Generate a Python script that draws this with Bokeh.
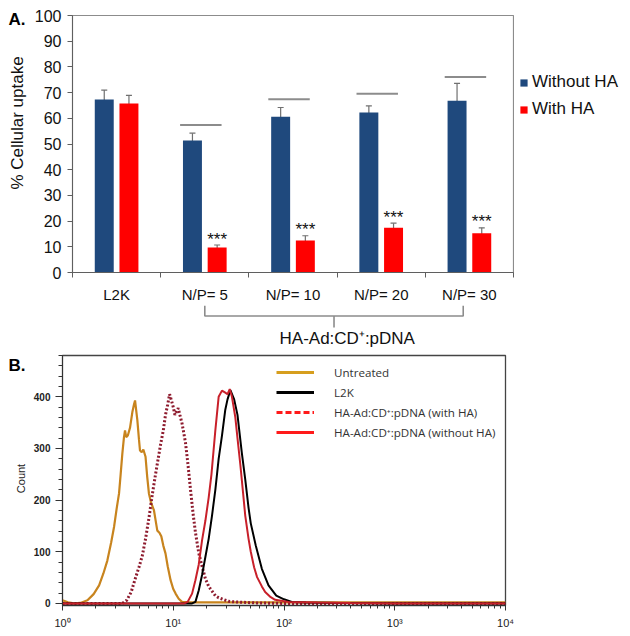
import math
from bokeh.plotting import figure
from bokeh.models import (ColumnDataSource, Range1d, FixedTicker, Whisker, TeeHead, Legend,
                          LegendItem, CustomJSTickFormatter)
from bokeh.transform import dodge
from bokeh.layouts import column, row
from bokeh.core.properties import value
from bokeh.embed import file_html
from bokeh.resources import INLINE

# ---------------- Panel A data ----------------
groups = ["L2K", "N/P= 5", "N/P= 10", "N/P= 20", "N/P= 30"]
a_series = ["Without HA", "With HA"]
uptake_without_ha = [67.3, 51.4, 60.6, 62.3, 66.8]
err_without_ha = [3.7, 2.8, 3.6, 2.5, 6.8]
uptake_with_ha = [65.8, 9.7, 12.5, 17.4, 15.3]
err_with_ha = [3.1, 1.0, 1.8, 1.8, 2.1]
sig_groups = ["N/P= 5", "N/P= 10", "N/P= 20", "N/P= 30"]
sig_line_level = [57.4, 67.4, 69.6, 76.1]
sig_text = ["***", "***", "***", "***"]
y_ticks_a = [0, 10, 20, 30, 40, 50, 60, 70, 80, 90, 100]
y_title_a = "% Cellular uptake"
bracket_groups = ["N/P= 5", "N/P= 30"]
bracket_text = "HA-Ad:CD\u207a:pDNA"
panel_tags = ["A.", "B."]

# ---------------- Panel B data ----------------
b_series = ["Untreated", "L2K", "HA-Ad:CD\u207a:pDNA (with HA)", "HA-Ad:CD\u207a:pDNA (without HA)"]
y_title_b = "Count"
untreated_fl = [1.0, 1.12, 1.27, 1.45, 1.68, 1.91, 2.14, 2.34, 2.54, 2.75, 2.92, 3.09, 3.24, 3.35, 3.47,
                3.59, 3.67, 3.76, 3.89, 4.07, 4.27, 4.42, 4.52, 4.62, 4.74, 4.90, 5.01, 5.19, 5.37, 5.62,
                5.82, 6.03, 6.31, 6.70, 7.00, 7.18, 7.50, 7.80, 8.13, 8.51, 8.91, 9.46, 10.0, 10.5, 11.2,
                12.0, 14.1, 100, 1000, 10000]
untreated_count = [6, 2, 0, 1, 6, 18, 35, 58, 83, 118, 148, 185, 213, 250, 290,
                   322, 335, 322, 325, 340, 370, 385, 393, 375, 355, 318, 296, 293, 298, 284,
                   245, 213, 195, 180, 155, 141, 137, 130, 112, 97, 72, 45, 28, 19, 9,
                   3, 2, 2, 2, 2]
with_ha_fl = [1.0, 3.47, 3.80, 4.17, 4.57, 4.90, 5.25, 5.62, 6.03, 6.46, 6.92, 7.24, 7.69, 8.13, 8.51,
              8.91, 9.27, 9.66, 10.0, 10.35, 10.72, 11.09, 11.48, 12.02, 12.88, 13.49, 14.32, 15.14, 15.85,
              16.98, 18.20, 19.50, 20.89, 23.99, 25.70, 31.62, 36.31, 54.95, 100, 10000]
with_ha_count = [0, 0, 6, 22, 50, 70, 92, 125, 165, 210, 250, 275, 308, 335, 365,
                 385, 405, 392, 380, 365, 372, 378, 365, 348, 312, 275, 220, 172, 138,
                 98, 72, 48, 33, 15, 11, 4, 3, 1, 0, 0]
l2k_fl = [1.0, 12.59, 14.79, 15.85, 16.98, 18.20, 19.50, 20.89, 22.39, 23.99, 25.70, 27.54, 29.51, 30.90,
          32.81, 35.48, 38.02, 41.69, 44.67, 47.86, 50.12, 55.59, 63.10, 72.44, 85.11, 100, 117.5, 158.5,
          316.2, 1000, 10000]
l2k_count = [0, 0, 0, 3, 25, 55, 90, 125, 170, 220, 280, 325, 375, 395,
             413, 395, 365, 290, 240, 185, 155, 112, 67, 35, 15, 8, 3, 2,
             1, 0, 0]
without_ha_fl = [1.0, 12.59, 13.49, 14.79, 15.85, 16.98, 18.20, 19.50, 20.89, 22.13, 23.99, 25.70, 27.54,
                 29.51, 30.90, 32.36, 33.88, 36.31, 38.02, 40.36, 42.66, 44.67, 47.86, 50.12, 53.70, 57.15,
                 63.10, 67.61, 75.86, 83.18, 109.6, 199.5, 398.1, 1000, 10000]
without_ha_count = [0, 0, 3, 19, 45, 75, 122, 160, 205, 250, 335, 400, 412,
                    408, 405, 415, 400, 361, 320, 268, 215, 170, 125, 100, 70, 51,
                    33, 22, 12, 7, 3, 2, 1, 0, 0]
y_ticks_b = [0, 100, 200, 300, 400]
x_ticks_b = [1, 10, 100, 1000, 10000]

# ---------------- styles ----------------
FONT = "Liberation Sans"
AX = "#5f5f5f"
BLUE = "#1F497D"
RED = "#FF0000"
GRAY = "#8c8c8c"
HA, HB, HC = 305, 287, 43      # strip heights
SIDE = 30                      # width of the left title strips


def no_align(p):
    if "frame_align" in p.properties():
        p.frame_align = False


def blank(width, height):
    # helper canvas whose frame is the whole canvas (pixel-like coordinates, y down)
    f = figure(width=width, height=height, x_range=Range1d(0, width), y_range=Range1d(height, 0),
               x_axis_location=None, y_axis_location=None, output_backend="svg", toolbar_location=None,
               min_border_left=0, min_border_right=0, min_border_top=0, min_border_bottom=0)
    no_align(f)
    f.grid.visible = False
    f.outline_line_color = None
    return f


# slot position of each category (category i occupies [i, i+1])
slot = {g: i + 0.5 for i, g in enumerate(groups)}

# ================= Panel A =================
srcA = ColumnDataSource(dict(
    pos=[slot[g] for g in groups], wo=uptake_without_ha, w=uptake_with_ha,
    wo_hi=[v + e for v, e in zip(uptake_without_ha, err_without_ha)],
    wo_lo=[v - e for v, e in zip(uptake_without_ha, err_without_ha)],
    w_hi=[v + e for v, e in zip(uptake_with_ha, err_with_ha)],
    w_lo=[v - e for v, e in zip(uptake_with_ha, err_with_ha)],
))
star_y = [uptake_with_ha[groups.index(g)] + err_with_ha[groups.index(g)] for g in sig_groups]
srcS = ColumnDataSource(dict(pos=[slot[g] for g in sig_groups], level=sig_line_level,
                             sy=star_y, txt=sig_text))

pA = figure(width=484, height=HA, x_range=Range1d(0, len(groups)), y_range=Range1d(0, 100),
            output_backend="svg", toolbar_location=None,
            min_border_left=72 - SIDE, min_border_right=1, min_border_top=15, min_border_bottom=30)
no_align(pA)
pA.xgrid.visible = False
pA.ygrid.visible = False
pA.outline_line_color = GRAY
pA.outline_line_width = 1.2

OFF = 0.14
BW = 0.215
pA.vbar(x=dodge("pos", -OFF), top="wo", width=BW, source=srcA, fill_color=BLUE, line_color=None)
pA.vbar(x=dodge("pos", OFF), top="w", width=BW, source=srcA, fill_color=RED, line_color=None)
for base, up, lo in [(-OFF, "wo_hi", "wo_lo"), (OFF, "w_hi", "w_lo")]:
    wk = Whisker(source=srcA, base=dodge("pos", base), upper=up, lower=lo,
                 line_color="#707070", line_width=1.2,
                 upper_head=TeeHead(size=6, line_color="#707070", line_width=1.2),
                 lower_head=TeeHead(size=6, line_color="#707070", line_width=1.2))
    pA.add_layout(wk)

pA.segment(x0=dodge("pos", -0.28), y0="level", x1=dodge("pos", 0.19), y1="level", source=srcS,
           line_color=GRAY, line_width=2)
pA.text(x=dodge("pos", OFF), y="sy", text="txt", source=srcS,
        text_align="center", text_baseline="alphabetic", y_offset=-6,
        text_font=value(FONT), text_font_size="17px", text_color="#111111")

ya = pA.yaxis[0]
ya.ticker = FixedTicker(ticks=y_ticks_a)
ya.axis_line_color = AX
ya.major_tick_line_color = AX
ya.major_tick_out = 5
ya.major_tick_in = 0
ya.minor_tick_line_color = None
ya.major_label_standoff = 6
ya.major_label_text_font = FONT
ya.major_label_text_font_size = "16px"
ya.major_label_text_color = "#111111"

xa = pA.xaxis[0]
xa.ticker = FixedTicker(ticks=[slot[g] for g in groups], minor_ticks=list(range(len(groups) + 1)))
xa.major_label_overrides = {slot[g]: g for g in groups}
xa.axis_line_color = AX
xa.major_tick_line_color = None
xa.major_tick_out = 5
xa.major_tick_in = 0
xa.minor_tick_line_color = AX
xa.minor_tick_out = 5
xa.minor_tick_in = 0
xa.major_label_standoff = 8
xa.major_label_text_font = FONT
xa.major_label_text_font_size = "15px"
xa.major_label_text_color = "#111111"

# left strip of panel A: tag and y-axis title
tA = blank(SIDE, HA)
tA.text(x=[8], y=[18.5], text=[panel_tags[0]], text_align="left", text_baseline="middle",
        text_font=value(FONT), text_font_size="17px", text_font_style="bold", text_color="#000000")
tA.text(x=[17], y=[122.5], text=[y_title_a], angle=math.pi / 2, text_align="center",
        text_baseline="middle", text_font=value(FONT), text_font_size="17px", text_color="#111111")

# right strip of panel A: series legend
tL = blank(630 - SIDE - 484, HA)
proxy_wo = tL.vbar(x=[1.0], top=[float("nan")], width=1, fill_color=BLUE, line_color=None)
proxy_w = tL.vbar(x=[1.0], top=[float("nan")], width=1, fill_color=RED, line_color=None)
legA = Legend(items=[LegendItem(label=a_series[0], renderers=[proxy_wo]),
                     LegendItem(label=a_series[1], renderers=[proxy_w])],
              location=(5, 186), glyph_width=9, glyph_height=9, label_standoff=4,
              spacing=7, padding=0, margin=0, border_line_color=None, background_fill_alpha=0,
              label_text_font=FONT, label_text_font_size="17px", label_height=20,
              label_text_color="#111111")
tL.add_layout(legA)

# ================= bracket strip =================
pC = figure(width=630, height=HC, x_range=Range1d(0, len(groups)), y_range=Range1d(HC, 0),
            x_axis_location=None, y_axis_location=None, output_backend="svg", toolbar_location=None,
            min_border_left=72, min_border_right=117, min_border_top=0, min_border_bottom=0)
no_align(pC)
pC.grid.visible = False
pC.outline_line_color = None
bl = slot[bracket_groups[0]]
br = slot[bracket_groups[1]] - 0.07
bm = (bl + br) / 2
pC.line(x=[bl, bl, br, br], y=[0, 10.5, 10.5, 0], line_color=GRAY, line_width=1.6)
pC.line(x=[bm, bm], y=[10.5, 22], line_color=GRAY, line_width=1.6)
pC.text(x=[bm + 0.15], y=[33], text=[bracket_text], text_align="center", text_baseline="middle",
        text_font=value(FONT), text_font_size="17px", text_color="#111111")

# ================= Panel B =================
pB = figure(width=630 - SIDE, height=HB, x_axis_type="log", x_range=Range1d(1, 10000),
            y_range=Range1d(-4, 480), output_backend="svg", toolbar_location=None,
            min_border_left=60 - SIDE, min_border_right=125, min_border_top=7, min_border_bottom=HB - 257)
no_align(pB)
pB.xgrid.visible = False
pB.ygrid.visible = False
pB.outline_line_color = "#444444"
pB.outline_line_width = 1.3

pB.line(untreated_fl, untreated_count, line_color="#C8841E", line_width=2.2)
pB.line(with_ha_fl, with_ha_count, line_color="#8E1B2E", line_width=3, line_dash="2 2")
pB.line(l2k_fl, l2k_count, line_color="#000000", line_width=2)
pB.line(without_ha_fl, without_ha_count, line_color="#C8202A", line_width=2)

lg_specs = [("#D69E1E", "solid"), ("#000000", "solid"), ("#FF1A1A", "6 3"), ("#FF1A1A", "solid")]
lg_items = []
for name, (col, dash) in zip(b_series, lg_specs):
    rr = pB.line(x=[1.0], y=[float("nan")], line_color=col, line_width=3, line_dash=dash)
    lg_items.append(LegendItem(label=name, renderers=[rr]))
legB = Legend(items=lg_items, location=(214, 165), glyph_width=38, glyph_height=16, label_standoff=20,
              spacing=4, padding=0, margin=0, border_line_color=None, background_fill_alpha=0,
              label_text_font="Open Sans", label_text_font_size="11.6px", label_height=16,
              label_text_color="#333333")
pB.add_layout(legB)

xb = pB.xaxis[0]
xb.ticker = FixedTicker(ticks=x_ticks_b,
                        minor_ticks=[m * d for d in [1, 10, 100, 1000] for m in range(2, 10)])
xb.formatter = CustomJSTickFormatter(code="""
const s = ["\u2070", "\u00b9", "\u00b2", "\u00b3", "\u2074"];
return "10" + s[Math.round(Math.log10(tick))];
""")
xb.axis_line_color = "#333333"
xb.major_tick_line_color = "#333333"
xb.minor_tick_line_color = "#333333"
xb.major_tick_out = 5
xb.major_tick_in = 0
xb.minor_tick_out = 3
xb.minor_tick_in = 0
xb.major_label_standoff = 6
xb.major_label_text_font = FONT
xb.major_label_text_font_size = "11px"
xb.major_label_text_color = "#222222"

yb = pB.yaxis[0]
yb.ticker = FixedTicker(ticks=y_ticks_b, minor_ticks=list(range(0, 481, 20)))
yb.axis_line_color = "#333333"
yb.major_tick_line_color = "#333333"
yb.minor_tick_line_color = "#333333"
yb.major_tick_out = 7
yb.major_tick_in = 0
yb.minor_tick_out = 4
yb.minor_tick_in = 0
yb.major_label_standoff = 5
yb.major_label_text_font = FONT
yb.major_label_text_font_size = "10px"
yb.major_label_text_font_style = "bold"
yb.major_label_text_color = "#222222"

# left strip of panel B: tag and y-axis title
tB = blank(SIDE, HB)
tB.text(x=[8], y=[17], text=[panel_tags[1]], text_align="left", text_baseline="middle",
        text_font=value(FONT), text_font_size="17px", text_font_style="bold", text_color="#000000")
tB.text(x=[20], y=[130], text=[y_title_b], angle=math.pi / 2, text_align="center",
        text_baseline="middle", text_font=value(FONT), text_font_size="11px", text_color="#222222")

layout = column(row(tA, pA, tL, spacing=0), pC, row(tB, pB, spacing=0), spacing=0)
with open("out.html", "w", encoding="utf-8") as f:
    f.write(file_html(layout, INLINE))
